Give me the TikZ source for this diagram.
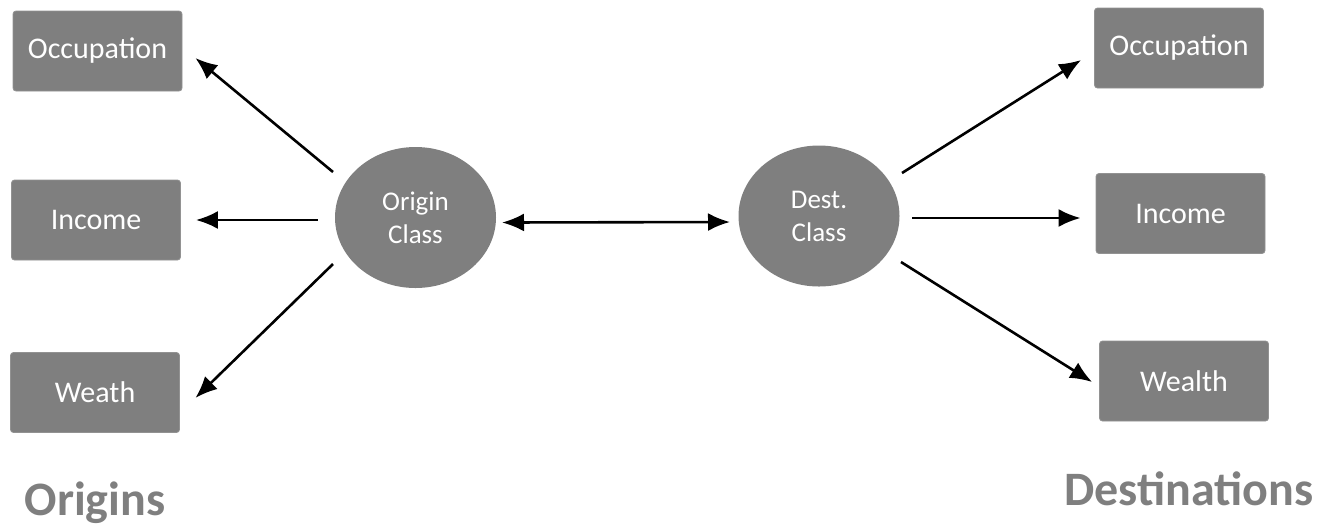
\documentclass[tikz,border=0pt]{standalone}
\usepackage{fontspec}
\setmainfont{Carlito}
\usepackage{tikz}
\usetikzlibrary{shapes.geometric,arrows.meta}

\definecolor{boxgray}{HTML}{7F7F7F}

\tikzset{
	attr/.style={draw=boxgray!85, fill=boxgray, rounded corners=1.5pt, text=white,
		minimum width=84.5pt, minimum height=40pt, inner sep=0pt,
		font=\fontsize{15}{18}\selectfont},
	cls/.style={ellipse, fill=boxgray, text=white, minimum width=80.5pt, minimum height=70.5pt,
		inner sep=0pt, align=center, font=\fontsize{13.5}{16.5}\selectfont},
	title/.style={anchor=base, text=boxgray, font=\fontsize{24}{28}\selectfont\bfseries},
	arr/.style={line width=1.3pt, -{Latex[length=11pt,width=9pt]}},
	darr/.style={line width=1.3pt, {Latex[length=11pt,width=9pt]}-{Latex[length=11pt,width=9pt]}},
}

\begin{document}
\begin{tikzpicture}[x=0.5pt, y=-0.5pt]
		\useasboundingbox (0,0) rectangle (1333,527) ;
		% Classes
		\node[cls] (Orig) at (415.5,217.5) {Origin\\Class} ;
		\node[cls] (Dest) at (819,216) {Dest.\\Class} ;
		% Origins
		\node[attr] (OccO) at (97.5,51) {Occupation} ;
		\node[attr] (IncO) at (96,220) {Income} ;
		\node[attr] (WeaO) at (95,392.5) {Weath} ;
		% Destinations
		\node[attr] (OccD) at (1179,48) {Occupation} ;
		\node[attr] (IncD) at (1180.5,213.5) {Income} ;
		\node[attr] (WeaD) at (1184,381) {Wealth} ;
		% Titles
		\node[title] (Origins) at (95,515) {Origins} ;
		\node[title] (Destinations) at (1189,505) {Destinations} ;
		% Edges
		\draw[arr] ([shift={(-82.5,-45.5)}]Orig.center) -- ([shift={(13,7)}]OccO.east) ;
		\draw[arr] ([shift={(-98,2.5)}]Orig.center) -- ([shift={(15,0)}]IncO.east) ;
		\draw[arr] ([shift={(-82.5,46.5)}]Orig.center) -- ([shift={(15.5,5.5)}]WeaO.east) ;
		\draw[darr] ([shift={(86.5,5)}]Orig.center) -- ([shift={(-89,6)}]Dest.center) ;
		\draw[arr] ([shift={(83,-43)}]Dest.center) -- ([shift={(-13,12)}]OccD.west) ;
		\draw[arr] ([shift={(93,2)}]Dest.center) -- ([shift={(-15,4.5)}]IncD.west) ;
		\draw[arr] ([shift={(82,46)}]Dest.center) -- ([shift={(-7,1)}]WeaD.west) ;
	\end{tikzpicture}
\end{document}
